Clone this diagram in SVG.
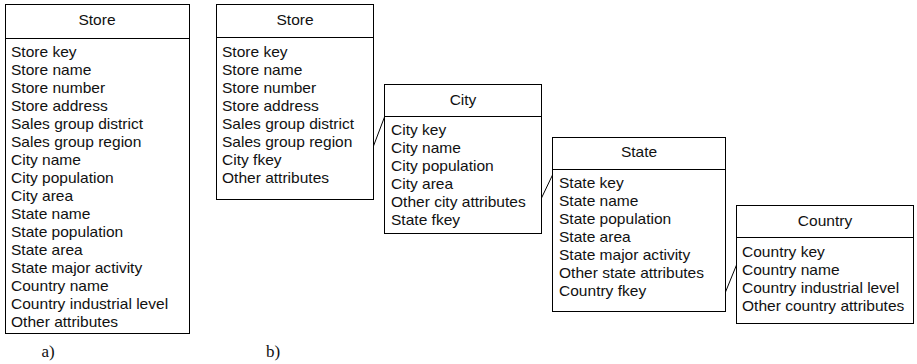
<svg xmlns="http://www.w3.org/2000/svg" width="917" height="364" viewBox="0 0 917 364">
<style>
.box{fill:#fff;stroke:#000;stroke-width:1}
.t{font-family:"Liberation Sans",Arial,sans-serif;font-size:14px;fill:#111}
.h{text-anchor:middle}
.lbl{font-family:"Liberation Serif","Times New Roman",serif;font-size:17px;fill:#111;text-anchor:middle}
.c{stroke:#000;stroke-width:1;fill:none}
</style>
<rect width="917" height="364" fill="#fff"/>
<g id="store-a">
<rect class="box" x="5.5" y="4.5" width="184" height="329"/>
<line class="c" x1="5.5" y1="38.5" x2="189.5" y2="38.5"/>
<g transform="translate(11,0) scale(1.11,1)">
<text class="t h" x="77.5" y="25">Store</text>
<text class="t" x="0" y="57">Store key</text>
<text class="t" x="0" y="75">Store name</text>
<text class="t" x="0" y="93">Store number</text>
<text class="t" x="0" y="111">Store address</text>
<text class="t" x="0" y="129">Sales group district</text>
<text class="t" x="0" y="147">Sales group region</text>
<text class="t" x="0" y="165">City name</text>
<text class="t" x="0" y="183">City population</text>
<text class="t" x="0" y="201">City area</text>
<text class="t" x="0" y="219">State name</text>
<text class="t" x="0" y="237">State population</text>
<text class="t" x="0" y="255">State area</text>
<text class="t" x="0" y="273">State major activity</text>
<text class="t" x="0" y="291">Country name</text>
<text class="t" x="0" y="309">Country industrial level</text>
<text class="t" x="0" y="327">Other attributes</text>
</g>
</g>
<g id="store-b">
<rect class="box" x="216.5" y="4.5" width="157" height="195"/>
<line class="c" x1="216.5" y1="37.5" x2="373.5" y2="37.5"/>
<g transform="translate(222,0) scale(1.11,1)">
<text class="t h" x="65.8" y="25">Store</text>
<text class="t" x="0" y="57">Store key</text>
<text class="t" x="0" y="75">Store name</text>
<text class="t" x="0" y="93">Store number</text>
<text class="t" x="0" y="111">Store address</text>
<text class="t" x="0" y="129">Sales group district</text>
<text class="t" x="0" y="147">Sales group region</text>
<text class="t" x="0" y="165">City fkey</text>
<text class="t" x="0" y="183">Other attributes</text>
</g>
</g>
<g id="city">
<rect class="box" x="384.5" y="84.5" width="157" height="149"/>
<line class="c" x1="384.5" y1="116.5" x2="541.5" y2="116.5"/>
<g transform="translate(391,0) scale(1.11,1)">
<text class="t h" x="64.9" y="105">City</text>
<text class="t" x="0" y="135">City key</text>
<text class="t" x="0" y="153">City name</text>
<text class="t" x="0" y="171">City population</text>
<text class="t" x="0" y="189">City area</text>
<text class="t" x="0" y="207">Other city attributes</text>
<text class="t" x="0" y="225">State fkey</text>
</g>
</g>
<g id="state">
<rect class="box" x="552.5" y="137.5" width="173" height="174"/>
<line class="c" x1="552.5" y1="169.5" x2="725.5" y2="169.5"/>
<g transform="translate(559,0) scale(1.11,1)">
<text class="t h" x="72.1" y="157">State</text>
<text class="t" x="0" y="188">State key</text>
<text class="t" x="0" y="206">State name</text>
<text class="t" x="0" y="224">State population</text>
<text class="t" x="0" y="242">State area</text>
<text class="t" x="0" y="260">State major activity</text>
<text class="t" x="0" y="278">Other state attributes</text>
<text class="t" x="0" y="296">Country fkey</text>
</g>
</g>
<g id="country">
<rect class="box" x="736.5" y="205.5" width="177" height="118"/>
<line class="c" x1="736.5" y1="237.5" x2="913.5" y2="237.5"/>
<g transform="translate(742,0) scale(1.11,1)">
<text class="t h" x="74.8" y="226">Country</text>
<text class="t" x="0" y="257">Country key</text>
<text class="t" x="0" y="275">Country name</text>
<text class="t" x="0" y="293">Country industrial level</text>
<text class="t" x="0" y="311">Other country attributes</text>
</g>
</g>
<g id="connectors">
<line class="c" x1="373.5" y1="146" x2="384.5" y2="117"/>
<line class="c" x1="541.5" y1="198" x2="552.5" y2="175"/>
<line class="c" x1="725.5" y1="292" x2="736.5" y2="265"/>
</g>
<text class="lbl" x="48" y="357">a)</text>
<text class="lbl" x="273" y="357">b)</text>
</svg>
